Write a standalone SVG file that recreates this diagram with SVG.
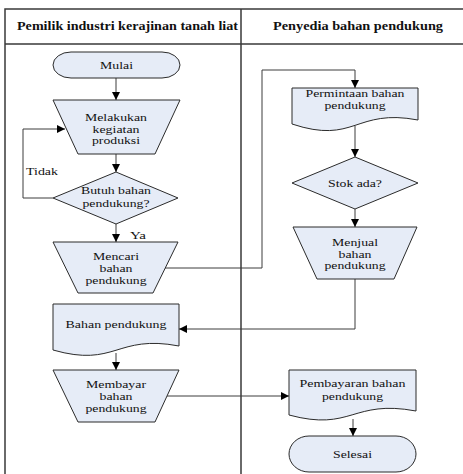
<svg xmlns="http://www.w3.org/2000/svg" width="463" height="474" viewBox="0 0 463 474">
<style>
.frame{fill:none;stroke:#3a3a3a;stroke-width:1.5}
.shape{fill:#e6ecf7;stroke:#2b2b2b;stroke-width:1}
.conn{fill:none;stroke:#3c3c3c;stroke-width:1}
text{font-family:'Liberation Serif',serif;fill:#111;text-anchor:middle}
.t{font-size:11px}
.h{font-size:12px;font-weight:bold}
.l{text-anchor:start}
</style>
<defs>
<marker id="arr" viewBox="0 0 10 10" refX="10" refY="5" markerWidth="9" markerHeight="8" markerUnits="userSpaceOnUse" orient="auto">
<path d="M0,0 L10,5 L0,10 Z" fill="#000"/>
</marker>
</defs>
<rect width="463" height="474" fill="#fff"/>
<g id="frame">
<path class="frame" d="M463,9 H5 V474 M5,44 H463 M241,9 V474"/>
<text class="h" x="127.5" y="30" textLength="221" lengthAdjust="spacingAndGlyphs">Pemilik industri kerajinan tanah liat</text>
<text class="h" x="358" y="30" textLength="170" lengthAdjust="spacingAndGlyphs">Penyedia bahan pendukung</text>
</g>
<g id="connectors">
<path class="conn" d="M116,78 V100" marker-end="url(#arr)"/>
<path class="conn" d="M116,154 V172" marker-end="url(#arr)"/>
<path class="conn" d="M53,198 H23 V129 H65" marker-end="url(#arr)"/>
<path class="conn" d="M116,224 V242" marker-end="url(#arr)"/>
<path class="conn" d="M165,268 H262 V70 H355 V88" marker-end="url(#arr)"/>
<path class="conn" d="M355,126 V157" marker-end="url(#arr)"/>
<path class="conn" d="M355,209 V227" marker-end="url(#arr)"/>
<path class="conn" d="M355,279 V329 H179" marker-end="url(#arr)"/>
<path class="conn" d="M116,353 V370" marker-end="url(#arr)"/>
<path class="conn" d="M167,396 H289" marker-end="url(#arr)"/>
<path class="conn" d="M353,419 V436" marker-end="url(#arr)"/>
<text class="t l" x="26" y="175" textLength="32" lengthAdjust="spacingAndGlyphs">Tidak</text>
<text class="t l" x="130" y="239" textLength="16" lengthAdjust="spacingAndGlyphs">Ya</text>
</g>
<g id="mulai">
<rect class="shape" x="53" y="52" width="127" height="26" rx="18" ry="13"/>
<text class="t" x="116.5" y="69" textLength="33" lengthAdjust="spacingAndGlyphs">Mulai</text>
</g>
<g id="melakukan">
<polygon class="shape" points="53,100 180,100 155,154 78,154"/>
<text class="t" x="116" y="121" textLength="62" lengthAdjust="spacingAndGlyphs">Melakukan</text>
<text class="t" x="116" y="132.5" textLength="47" lengthAdjust="spacingAndGlyphs">kegiatan</text>
<text class="t" x="116" y="144" textLength="48" lengthAdjust="spacingAndGlyphs">produksi</text>
</g>
<g id="butuh">
<polygon class="shape" points="53,198 116,172 178,198 116,224"/>
<text class="t" x="116" y="193.5" textLength="70" lengthAdjust="spacingAndGlyphs">Butuh bahan</text>
<text class="t" x="116" y="207" textLength="67" lengthAdjust="spacingAndGlyphs">pendukung?</text>
</g>
<g id="mencari">
<polygon class="shape" points="53,242 178,242 153,293 78,293"/>
<text class="t" x="116" y="260" textLength="46" lengthAdjust="spacingAndGlyphs">Mencari</text>
<text class="t" x="116" y="272" textLength="33" lengthAdjust="spacingAndGlyphs">bahan</text>
<text class="t" x="116" y="284" textLength="61" lengthAdjust="spacingAndGlyphs">pendukung</text>
</g>
<g id="permintaan">
<path class="shape" d="M292,88 H418 V120 C355,108 355,145 292,124 Z"/>
<text class="t" x="355" y="97" textLength="99" lengthAdjust="spacingAndGlyphs">Permintaan bahan</text>
<text class="t" x="355" y="109" textLength="61" lengthAdjust="spacingAndGlyphs">pendukung</text>
</g>
<g id="stok">
<polygon class="shape" points="292,183 355,157 418,183 355,209"/>
<text class="t" x="355" y="187" textLength="54" lengthAdjust="spacingAndGlyphs">Stok ada?</text>
</g>
<g id="menjual">
<polygon class="shape" points="293,227 417,227 394,279 317,279"/>
<text class="t" x="355" y="246" textLength="46" lengthAdjust="spacingAndGlyphs">Menjual</text>
<text class="t" x="355" y="257.5" textLength="33" lengthAdjust="spacingAndGlyphs">bahan</text>
<text class="t" x="355" y="269" textLength="61" lengthAdjust="spacingAndGlyphs">pendukung</text>
</g>
<g id="bahan">
<path class="shape" d="M53,304 H179 V346 C116,334 116,368 53,350 Z"/>
<text class="t" x="116" y="328" textLength="101" lengthAdjust="spacingAndGlyphs">Bahan pendukung</text>
</g>
<g id="membayar">
<polygon class="shape" points="53,370 179,370 155,422 78,422"/>
<text class="t" x="116" y="388" textLength="60" lengthAdjust="spacingAndGlyphs">Membayar</text>
<text class="t" x="116" y="400" textLength="33" lengthAdjust="spacingAndGlyphs">bahan</text>
<text class="t" x="116" y="412" textLength="61" lengthAdjust="spacingAndGlyphs">pendukung</text>
</g>
<g id="pembayaran">
<path class="shape" d="M289,370 H416 V411 C352,399 352,432 289,415 Z"/>
<text class="t" x="352.5" y="386.5" textLength="106" lengthAdjust="spacingAndGlyphs">Pembayaran bahan</text>
<text class="t" x="352.5" y="400" textLength="61" lengthAdjust="spacingAndGlyphs">pendukung</text>
</g>
<g id="selesai">
<rect class="shape" x="289" y="436" width="127" height="36" rx="20" ry="18"/>
<text class="t" x="352.5" y="458" textLength="39" lengthAdjust="spacingAndGlyphs">Selesai</text>
</g>
</svg>
